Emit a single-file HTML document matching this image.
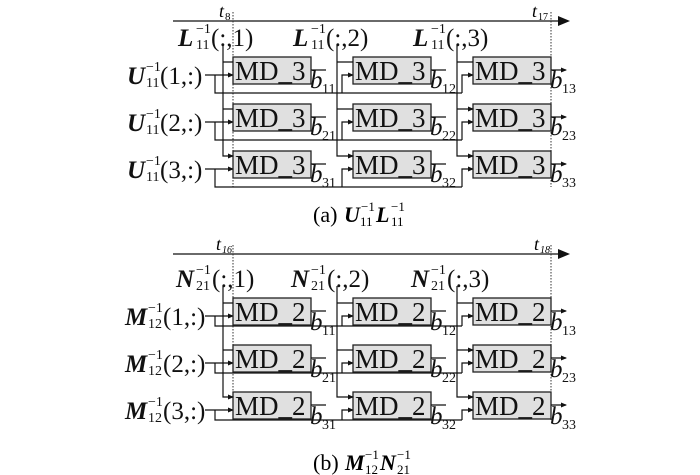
<!DOCTYPE html>
<html><head><meta charset="utf-8"><style>
html,body{margin:0;padding:0;background:#fff;}
svg{display:block;font-family:"Liberation Serif",serif;}
.b{fill:#e0e0e0;stroke:#222;stroke-width:1.3}
.l{fill:none;stroke:#111;stroke-width:1.2}
.d{fill:none;stroke:#333;stroke-width:1;stroke-dasharray:1.5 1.5}
.a{fill:none;stroke:#111;stroke-width:1.2;marker-end:url(#ar)}
.md{font-size:27px;fill:#111}
.v{font-size:25px;fill:#111}
.bi{font-weight:bold;font-style:italic}
.s{font-size:14px;fill:#111}
.it{font-style:italic}
</style></head><body>
<svg width="700" height="475" viewBox="0 0 700 475" xmlns="http://www.w3.org/2000/svg">
<defs>
<marker id="ar" markerWidth="6" markerHeight="6" refX="5" refY="3" orient="auto" markerUnits="userSpaceOnUse"><path d="M0,0.5 L6,3 L0,5.5z" fill="#111"/></marker>
<marker id="big" markerWidth="12" markerHeight="10" refX="10" refY="5" orient="auto" markerUnits="userSpaceOnUse"><path d="M0,0 L12,5 L0,10z" fill="#111"/></marker>

<g id="rowT">
  <path class="a" d="M205,18 H233"/>
  <path class="l" d="M215,18 V36 H462"/>
  <path class="a" d="M342,36 V18 H353"/>
  <path class="a" d="M462,36 V18 H473"/>
  <rect class="b" x="233" y="0" width="78" height="27"/>
  <rect class="b" x="353" y="0" width="78" height="27"/>
  <rect class="b" x="473" y="0" width="78" height="27"/>
  <path class="a" d="M311,13 h15 M431,13 h15 M551,13 h15"/>
</g>
<g id="rowB">
  <path class="a" d="M205,18 H233"/>
  <path class="l" d="M215,18 V28 H462"/>
  <path class="a" d="M342,28 V18 H353"/>
  <path class="a" d="M462,28 V18 H473"/>
  <rect class="b" x="233" y="0" width="78" height="27"/>
  <rect class="b" x="353" y="0" width="78" height="27"/>
  <rect class="b" x="473" y="0" width="78" height="27"/>
  <path class="a" d="M311,13 h15 M431,13 h15 M551,13 h15"/>
</g>
</defs>

<!-- ============ TOP (a) ============ -->
<path class="l" d="M173,21 H568" marker-end="url(#big)"/>
<text x="219" y="17" font-size="18" class="it">t</text><text x="225" y="20" font-size="11">8</text>
<text x="532" y="17" font-size="18" class="it">t</text><text x="538" y="20" font-size="10">17</text>
<path class="d" d="M233,12 V187 M551,12 V187"/>

<use href="#rowT" y="57"/>
<use href="#rowT" y="104"/>
<use href="#rowT" y="151"/>

<path class="l" d="M223,45 V156 H233" marker-end="url(#ar)"/>
<path class="l" d="M337,45 V156 H353" marker-end="url(#ar)"/>
<path class="l" d="M457,45 V156 H473" marker-end="url(#ar)"/>
<path class="a" d="M223,62 H233 M223,109 H233 M337,62 H353 M337,109 H353 M457,62 H473 M457,109 H473"/>

<g class="md">
<text x="235" y="80">MD_3</text><text x="355" y="80">MD_3</text><text x="475" y="80">MD_3</text>
<text x="235" y="127">MD_3</text><text x="355" y="127">MD_3</text><text x="475" y="127">MD_3</text>
<text x="235" y="174">MD_3</text><text x="355" y="174">MD_3</text><text x="475" y="174">MD_3</text>
</g>
<g class="v it">
<text x="310" y="88">b</text><text x="430" y="88">b</text><text x="550" y="88">b</text>
<text x="310" y="135">b</text><text x="430" y="135">b</text><text x="550" y="135">b</text>
<text x="310" y="182">b</text><text x="430" y="182">b</text><text x="550" y="182">b</text>
</g>
<g class="s">
<text x="322" y="93">11</text><text x="442" y="93">12</text><text x="562" y="93">13</text>
<text x="322" y="140">21</text><text x="442" y="140">22</text><text x="562" y="140">23</text>
<text x="322" y="187">31</text><text x="442" y="187">32</text><text x="562" y="187">33</text>
</g>

<g>
<text x="178" y="46" class="v bi">L</text><text x="196" y="33" class="s">−1</text><text x="196" y="49" class="s">11</text><text x="211" y="46" class="v">(:,1)</text>
<text x="293" y="46" class="v bi">L</text><text x="311" y="33" class="s">−1</text><text x="311" y="49" class="s">11</text><text x="326" y="46" class="v">(:,2)</text>
<text x="413" y="46" class="v bi">L</text><text x="431" y="33" class="s">−1</text><text x="431" y="49" class="s">11</text><text x="446" y="46" class="v">(:,3)</text>
</g>
<g>
<text x="127" y="84" class="v bi">U</text><text x="146" y="71" class="s">−1</text><text x="146" y="87" class="s">11</text><text x="160" y="84" class="v">(1,:)</text>
<text x="127" y="131" class="v bi">U</text><text x="146" y="118" class="s">−1</text><text x="146" y="134" class="s">11</text><text x="160" y="131" class="v">(2,:)</text>
<text x="127" y="178" class="v bi">U</text><text x="146" y="165" class="s">−1</text><text x="146" y="181" class="s">11</text><text x="160" y="178" class="v">(3,:)</text>
</g>
<text x="313" y="222" font-size="22">(a)</text>
<text x="344" y="222" font-size="22" class="bi">U</text><text x="361" y="211" font-size="13">−1</text><text x="360" y="226" font-size="13">11</text>
<text x="376" y="222" font-size="22" class="bi">L</text><text x="391" y="211" font-size="13">−1</text><text x="391" y="226" font-size="13">11</text>

<!-- ============ BOTTOM (b) ============ -->
<path class="l" d="M173,254 H568" marker-end="url(#big)"/>
<text x="216" y="250" font-size="18" class="it">t</text><text x="222" y="253" font-size="10" class="it">16</text>
<text x="534" y="250" font-size="18" class="it">t</text><text x="540" y="253" font-size="10" class="it">18</text>
<path class="d" d="M233,245 V420 M551,245 V420"/>

<use href="#rowB" y="298"/>
<use href="#rowB" y="345"/>
<use href="#rowB" y="392"/>

<path class="l" d="M223,286 V397 H233" marker-end="url(#ar)"/>
<path class="l" d="M337,286 V397 H353" marker-end="url(#ar)"/>
<path class="l" d="M457,286 V397 H473" marker-end="url(#ar)"/>
<path class="a" d="M223,303 H233 M223,350 H233 M337,303 H353 M337,350 H353 M457,303 H473 M457,350 H473"/>

<g class="md">
<text x="235" y="321">MD_2</text><text x="355" y="321">MD_2</text><text x="475" y="321">MD_2</text>
<text x="235" y="368">MD_2</text><text x="355" y="368">MD_2</text><text x="475" y="368">MD_2</text>
<text x="235" y="415">MD_2</text><text x="355" y="415">MD_2</text><text x="475" y="415">MD_2</text>
</g>
<g class="v it">
<text x="310" y="330">b</text><text x="430" y="330">b</text><text x="550" y="330">b</text>
<text x="310" y="377">b</text><text x="430" y="377">b</text><text x="550" y="377">b</text>
<text x="310" y="424">b</text><text x="430" y="424">b</text><text x="550" y="424">b</text>
</g>
<g class="s">
<text x="322" y="335">11</text><text x="442" y="335">12</text><text x="562" y="335">13</text>
<text x="322" y="382">21</text><text x="442" y="382">22</text><text x="562" y="382">23</text>
<text x="322" y="429">31</text><text x="442" y="429">32</text><text x="562" y="429">33</text>
</g>

<g>
<text x="176" y="287" class="v bi">N</text><text x="196" y="274" class="s">−1</text><text x="196" y="290" class="s">21</text><text x="212" y="287" class="v">(:,1)</text>
<text x="291" y="287" class="v bi">N</text><text x="311" y="274" class="s">−1</text><text x="311" y="290" class="s">21</text><text x="327" y="287" class="v">(:,2)</text>
<text x="411" y="287" class="v bi">N</text><text x="431" y="274" class="s">−1</text><text x="431" y="290" class="s">21</text><text x="447" y="287" class="v">(:,3)</text>
</g>
<g>
<text x="125" y="325" class="v bi">M</text><text x="148" y="312" class="s">−1</text><text x="148" y="328" class="s">12</text><text x="163" y="325" class="v">(1,:)</text>
<text x="125" y="372" class="v bi">M</text><text x="148" y="359" class="s">−1</text><text x="148" y="375" class="s">12</text><text x="163" y="372" class="v">(2,:)</text>
<text x="125" y="419" class="v bi">M</text><text x="148" y="406" class="s">−1</text><text x="148" y="422" class="s">12</text><text x="163" y="419" class="v">(3,:)</text>
</g>
<text x="313" y="470" font-size="22">(b)</text>
<text x="345" y="470" font-size="22" class="bi">M</text><text x="365" y="459" font-size="13">−1</text><text x="365" y="474" font-size="13">12</text>
<text x="380" y="470" font-size="22" class="bi">N</text><text x="397" y="459" font-size="13">−1</text><text x="397" y="474" font-size="13">21</text>
</svg>
</body></html>
